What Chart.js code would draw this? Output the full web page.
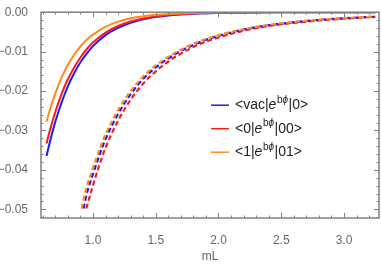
<!DOCTYPE html>
<html>
<head>
<meta charset="utf-8">
<script src="https://cdn.jsdelivr.net/npm/chart.js@4"></script>
<style>
  html, body { margin: 0; padding: 0; background: #fff; }
</style>
</head>
<body>
<canvas id="chart" width="382" height="265"></canvas>
<script>
// valeurs (mL en abscisse)
const mLSolid = [0.63, 0.65, 0.7, 0.75, 0.8, 0.85, 0.9, 0.95, 1.0, 1.1, 1.2, 1.3, 1.4, 1.5, 1.6, 1.8, 2.0, 2.25, 2.5, 2.75, 3.0, 3.25];
const vacSolid = [-0.0365, -0.0338, -0.0278, -0.0229, -0.0188, -0.0155, -0.0127, -0.0105, -0.0086, -0.0058, -0.0040, -0.0027, -0.0018, -0.00123, -0.00083, -0.00038, -0.00018, -0.00007, -0.00003, -0.00001, 0, 0];
const zeroSolid = [-0.0333, -0.0308, -0.0253, -0.0207, -0.0170, -0.0140, -0.0115, -0.0094, -0.0077, -0.0052, -0.0035, -0.00236, -0.00159, -0.00107, -0.00072, -0.00033, -0.00015, -0.00006, -0.00002, -0.00001, 0, 0];
const oneSolid = [-0.0278, -0.0255, -0.0206, -0.0166, -0.0134, -0.0108, -0.0087, -0.0070, -0.0057, -0.0037, -0.0024, -0.00156, -0.00101, -0.00066, -0.00043, -0.00018, -0.00008, -0.00003, -0.00001, 0, 0, 0];

const mLVacDash = [0.925, 0.95, 1.0, 1.05, 1.1, 1.2, 1.3, 1.4, 1.5, 1.6, 1.7, 1.8, 1.9, 2.0, 2.2, 2.4, 2.6, 2.8, 3.0, 3.25];
const vacDash = [-0.0498, -0.0461, -0.0411, -0.0364, -0.0322, -0.0258, -0.0208, -0.0169, -0.0140, -0.0117, -0.0098, -0.0083, -0.0070, -0.0060, -0.0044, -0.0033, -0.00255, -0.00196, -0.00155, -0.00113];
const mLZeroDash = [0.947, 1.0, 1.05, 1.1, 1.2, 1.3, 1.4, 1.5, 1.6, 1.7, 1.8, 1.9, 2.0, 2.2, 2.4, 2.6, 2.8, 3.0, 3.25];
const zeroDash = [-0.0498, -0.0439, -0.0389, -0.0344, -0.0275, -0.0222, -0.0181, -0.0150, -0.0125, -0.0105, -0.0088, -0.0075, -0.0064, -0.0047, -0.0035, -0.0027, -0.0021, -0.00165, -0.0012];
const mLOneDash = [0.91, 0.95, 1.0, 1.05, 1.1, 1.2, 1.3, 1.4, 1.5, 1.6, 1.7, 1.8, 1.9, 2.0, 2.2, 2.4, 2.6, 2.8, 3.0, 3.25];
const oneDash = [-0.0498, -0.0443, -0.0395, -0.0350, -0.0310, -0.0248, -0.0200, -0.0163, -0.0135, -0.0113, -0.0095, -0.0080, -0.0068, -0.0058, -0.0043, -0.0032, -0.00245, -0.0019, -0.0015, -0.0011];

// graduations
const xTicks = [1.0, 1.5, 2.0, 2.5, 3.0];
const xMinor = [0.6, 0.7, 0.8, 0.9, 1.1, 1.2, 1.3, 1.4, 1.6, 1.7, 1.8, 1.9, 2.1, 2.2, 2.3, 2.4, 2.6, 2.7, 2.8, 2.9, 3.1, 3.2];
const yTicks = [0, -0.01, -0.02, -0.03, -0.04, -0.05];
const yMinor = [-0.002, -0.004, -0.006, -0.008, -0.012, -0.014, -0.016, -0.018, -0.022, -0.024, -0.026, -0.028, -0.032, -0.034, -0.036, -0.038, -0.042, -0.044, -0.046, -0.048, -0.052];

// légende : avant / après le e^{bϕ}
const legendPre = ['<vac|', '<0|', '<1|'];
const legendPost = ['|0>', '|00>', '|01>'];

const BLUE = '#1a1aff';
const RED = '#ff1a1a';
const ORANGE = '#ff8c1a';
const legendColors = [BLUE, RED, ORANGE];
const FONT = '"Liberation Sans", Arial, sans-serif';

const toPts = (xs, ys) => xs.map((x, i) => ({ x: x, y: ys[i] }));

function line(data, color, dashed, order) {
    return {
        data: data,
        borderColor: color,
        borderWidth: dashed ? 2.2 : 2,
        borderDash: dashed ? [5, 3] : [],
        pointRadius: 0,
        showLine: true,
        fill: false,
        cubicInterpolationMode: 'monotone',
        order: order
    };
}

// cadre + graduations internes (style Mathematica)
const frameTicks = {
    id: 'frameTicks',
    afterDatasetsDraw(chart) {
        const { ctx, chartArea: a, scales: { x, y } } = chart;
        ctx.save();
        ctx.strokeStyle = '#808080';
        ctx.lineWidth = 1;
        ctx.beginPath();
        const vt = (v, len) => {
            const p = Math.round(x.getPixelForValue(v)) + 0.5;
            ctx.moveTo(p, a.bottom); ctx.lineTo(p, a.bottom - len);
            ctx.moveTo(p, a.top); ctx.lineTo(p, a.top + len);
        };
        const ht = (v, len) => {
            const p = Math.round(y.getPixelForValue(v)) + 0.5;
            ctx.moveTo(a.left, p); ctx.lineTo(a.left + len, p);
            ctx.moveTo(a.right, p); ctx.lineTo(a.right - len, p);
        };
        xTicks.forEach(v => vt(v, 5));
        xMinor.forEach(v => vt(v, 2.5));
        yTicks.forEach(v => ht(v, 5));
        yMinor.forEach(v => ht(v, 2.5));
        ctx.stroke();
        ctx.lineWidth = 1.5;
        ctx.strokeRect(a.left, a.top, a.right - a.left, a.bottom - a.top);
        ctx.restore();
    }
};

const texLegend = {
    id: 'texLegend',
    afterDraw(chart) {
        const { ctx, chartArea: a } = chart;
        const x0 = a.left + 170;
        const y0 = a.top + 93;
        ctx.save();
        ctx.textBaseline = 'middle';
        ctx.fillStyle = '#222';
        legendPre.forEach((pre, i) => {
            const yy = y0 + i * 23.5;
            ctx.strokeStyle = legendColors[i];
            ctx.lineWidth = 1.5;
            ctx.beginPath();
            ctx.moveTo(x0, yy); ctx.lineTo(x0 + 18, yy);
            ctx.stroke();
            let tx = x0 + 24;
            ctx.font = '14px ' + FONT;
            ctx.fillText(pre, tx, yy);
            tx += ctx.measureText(pre).width;
            ctx.font = 'italic 14px ' + FONT;
            ctx.fillText('e', tx, yy);
            tx += ctx.measureText('e').width + 0.5;
            ctx.font = '10px ' + FONT;
            ctx.fillText('b', tx, yy - 5);
            tx += ctx.measureText('b').width;
            ctx.font = 'italic 10px ' + FONT;
            ctx.fillText('\u03d5', tx, yy - 5);
            tx += ctx.measureText('\u03d5').width + 0.5;
            ctx.font = '14px ' + FONT;
            ctx.fillText(legendPost[i], tx, yy);
        });
        ctx.restore();
    }
};

const tickFont = { family: FONT, size: 12 };

new Chart(document.getElementById('chart').getContext('2d'), {
    type: 'scatter',
    data: {
        datasets: [
            line(toPts(mLSolid, vacSolid), BLUE, false, 3),
            line(toPts(mLSolid, zeroSolid), RED, false, 2),
            line(toPts(mLSolid, oneSolid), ORANGE, false, 1),
            line(toPts(mLVacDash, vacDash), BLUE, true, 5),
            line(toPts(mLZeroDash, zeroDash), RED, true, 6),
            line(toPts(mLOneDash, oneDash), ORANGE, true, 4)
        ]
    },
    options: {
        responsive: false,
        animation: false,
        devicePixelRatio: 1,
        layout: { padding: { top: 9, right: 3, left: 0, bottom: 0 } },
        plugins: {
            legend: { display: false },
            tooltip: { enabled: false }
        },
        scales: {
            x: {
                type: 'linear',
                min: 0.586,
                max: 3.279,
                grid: { display: false },
                border: { display: false },
                afterBuildTicks: s => { s.ticks = xTicks.map(v => ({ value: v })); },
                afterFit: s => { s.height = 47; },
                ticks: {
                    padding: 7,
                    color: '#666',
                    font: tickFont,
                    maxRotation: 0,
                    callback: v => v.toFixed(1)
                },
                title: {
                    display: true,
                    text: 'mL',
                    color: '#666',
                    font: tickFont,
                    padding: { top: 0, bottom: 1 }
                }
            },
            y: {
                min: -0.0522,
                max: 0,
                grid: { display: false },
                border: { display: false },
                afterBuildTicks: s => { s.ticks = yTicks.map(v => ({ value: v })); },
                afterFit: s => { s.width = 41; },
                ticks: {
                    padding: 5,
                    color: '#666',
                    font: tickFont,
                    callback: v => v === 0 ? '0.00' : '\u2212' + Math.abs(v).toFixed(2)
                }
            }
        }
    },
    plugins: [frameTicks, texLegend]
});
</script>
</body>
</html>
